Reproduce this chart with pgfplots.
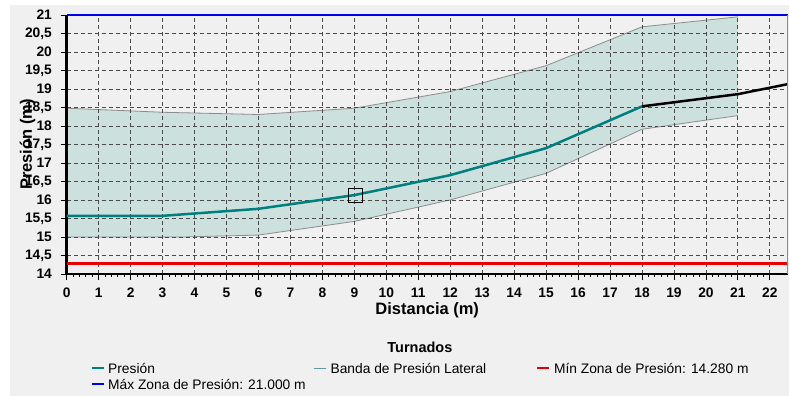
\documentclass[border=0pt]{standalone}
\usepackage{pgfplots}
\pgfplotsset{compat=1.18}
\usepackage{fontspec}
\setmainfont{Liberation Sans}

\definecolor{panel}{HTML}{F0F0F0}
\definecolor{presion}{HTML}{007F7F}
\definecolor{banda}{HTML}{CCE0DE}
\definecolor{bandaedge}{HTML}{8C8C8C}
\definecolor{bandaleg}{HTML}{5F9F9F}
\definecolor{gridc}{HTML}{4A4A4A}
\definecolor{minz}{HTML}{E80000}
\definecolor{maxz}{HTML}{0000F0}

\pgfplotsset{
    marco/.style={
        at={(66.7pt,122pt)}, anchor=south west,
        scale only axis, width=721.3pt, height=259pt,
        xmin=0, xmax=22.56, ymin=14, ymax=21,
        clip=false,
    },
}

\begin{document}
\fontsize{13.8}{16}\selectfont
\begin{tikzpicture}[x=1pt,y=1pt]
\path (0,0) rectangle (789,396);
\fill[panel] (10,0) rectangle (789,391);

% banda de presion lateral (debajo de la rejilla)
\begin{axis}[marco, hide axis]
\addplot[fill=banda, draw=none] coordinates {
    (0,18.48) (3,18.37) (6,18.31) (9,18.48) (12,18.93) (15,19.63) (18,20.68) (21,20.95)
    (21,18.28) (18,17.91) (15,16.72) (12,16.00) (9,15.42) (6,15.05) (3.7,15.00) (0,15.00)
};
\addplot[draw=bandaedge, line width=0.8pt] coordinates {
    (0,18.48) (3,18.37) (6,18.31) (9,18.48) (12,18.93) (15,19.63) (18,20.68) (21,20.95)
};
\addplot[draw=bandaedge, line width=0.8pt] coordinates {
    (0,15.00) (3.7,15.00) (6,15.05) (9,15.42) (12,16.00) (15,16.72) (18,17.91) (21,18.28)
};
\end{axis}

\begin{axis}[
    marco,
    xtick={0,1,...,22}, ytick={14,14.5,...,21},
    minor x tick num=4,
    tick align=outside,
    major tick length=6pt, minor tick length=3pt,
    xmajorgrids, ymajorgrids,
    major grid style={gridc, dash pattern=on 4pt off 3pt, line width=0.8pt},
    axis x line*=bottom, axis y line*=left,
    axis line style={black, line width=2.5pt, -},
    tick style={black, line width=0.8pt},
    /pgf/number format/assume math mode=true,
    /pgf/number format/use comma,
    ticklabel style={font=\bfseries\fontsize{13.8}{16}\selectfont},
    yticklabel style={xshift=-4pt},
    xticklabel style={yshift=-3pt},
    xlabel={Distancia (m)}, ylabel={Presión (m)},
    label style={font=\bfseries\fontsize{16.5}{18}\selectfont},
    x label style={at={(axis description cs:0.5,-0.158)}, anchor=base},
    y label style={at={(axis description cs:-0.0543,0.5)}, anchor=center},
]
% zonas de presion
\addplot[minz, line width=2.5pt] coordinates {(0,14.28) (22.56,14.28)};
\addplot[maxz, line width=1.5pt] coordinates {(0,21) (22.56,21)};

% presion
\addplot[presion, line width=2.5pt] coordinates {
    (0,15.57) (3,15.57) (6,15.76) (9,16.13) (12,16.67) (15,17.40) (18,18.53)
};
\addplot[black, line width=2.5pt] coordinates {
    (18,18.53) (21,18.86) (22.56,19.13)
};

% cursor
\addplot[only marks, mark=square, mark size=7pt, mark options={black, line width=0.8pt}]
    coordinates {(9.02,16.12)};

\draw[bandaedge, line width=0.8pt] (rel axis cs:1,0) -- (rel axis cs:1,1);
\end{axis}

% leyenda
\node[font=\bfseries\fontsize{14.5}{16}\selectfont, anchor=base] at (420,43) {Turnados};
\draw[presion, line width=2.5pt] (92,27.7) -- (104,27.7);
\node[anchor=base west, inner sep=0pt] at (108,22.7) {Presión};
\draw[bandaleg, line width=1.2pt] (314,27.7) -- (326,27.7);
\node[anchor=base west, inner sep=0pt] at (330.5,22.7) {Banda de Presión Lateral};
\draw[minz, line width=2.5pt] (537,27.7) -- (549,27.7);
\node[anchor=base west, inner sep=0pt] at (554,22.7) {Mín Zona de Presión: 14.280 m};
\draw[maxz, line width=2.5pt] (92,12) -- (104,12);
\node[anchor=base west, inner sep=0pt] at (108,6) {Máx Zona de Presión: 21.000 m};
\end{tikzpicture}
\end{document}
